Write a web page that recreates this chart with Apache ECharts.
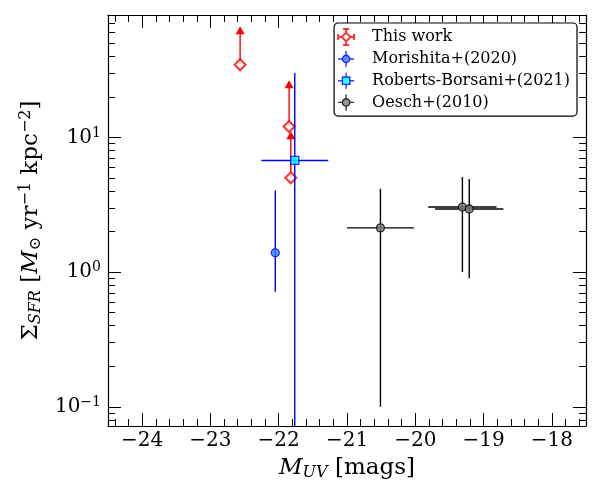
<!DOCTYPE html>
<html>
<head>
<meta charset="utf-8">
<script src="https://cdn.jsdelivr.net/npm/echarts@6/dist/echarts.min.js"></script>
<style>
  html, body { margin: 0; background: #fff; }
  #chart { width: 600px; height: 500px; }
</style>
</head>
<body>
<div id="chart"></div>
<script>
const FONT = "DejaVu Serif";

// axis ranges and ticks
const xRange = [-24.5, -17.5];
const yRange = [0.072, 81];
const xMajor = [-24, -23, -22, -21, -20, -19, -18];
const xMinor = [-24.4, -24.2, -23.8, -23.6, -23.4, -23.2, -22.8, -22.6, -22.4, -22.2,
  -21.8, -21.6, -21.4, -21.2, -20.8, -20.6, -20.4, -20.2, -19.8, -19.6, -19.4, -19.2,
  -18.8, -18.6, -18.4, -18.2, -17.8, -17.6];
const yMajor = [0.1, 1, 10];
const yMinor = [0.08, 0.09, 0.2, 0.3, 0.4, 0.5, 0.6, 0.7, 0.8, 0.9,
  2, 3, 4, 5, 6, 7, 8, 9, 20, 30, 40, 50, 60, 70, 80];

// This work (lower limits, arrows point up)
const workMuv = [-22.565, -21.848, -21.823];
const workSfr = [34.6, 12.05, 5.01];
const workLimit = [62, 24.6, 10.3];

// Morishita+(2020)
const morMuv = [-22.05];
const morSfr = [1.39];
const morLo = [0.714];
const morHi = [4.03];

// Roberts-Borsani+(2021)
const rbMuv = [-21.765];
const rbSfr = [6.74];
const rbMuvErr = [0.49];
const rbLo = [0.0001];
const rbHi = [30.0];

// Oesch+(2010)
const oeMuv = [-20.51, -19.31, -19.21];
const oeSfr = [2.13, 3.04, 2.94];
const oeMuvErr = [0.49, 0.5, 0.5];
const oeLo = [0.1, 1.0, 0.9];
const oeHi = [4.15, 5.07, 4.9];

const chart = echarts.init(document.getElementById("chart"));

function xAxisCfg(pos, ticks, len, main) {
  return {
    type: "value",
    position: pos,
    min: xRange[0],
    max: xRange[1],
    axisLine: { show: main, onZero: false, lineStyle: { color: "#000", width: 1.2 } },
    axisTick: { show: true, inside: true, length: len, customValues: ticks, lineStyle: { color: "#000", width: 1 } },
    axisLabel: { show: false },
    splitLine: { show: false },
  };
}

function yAxisCfg(pos, ticks, len, main) {
  return {
    type: "log",
    logBase: 10,
    position: pos,
    min: yRange[0],
    max: yRange[1],
    axisLine: { show: main, onZero: false, lineStyle: { color: "#000", width: 1.2 } },
    axisTick: { show: true, inside: true, length: len, customValues: ticks, lineStyle: { color: "#000", width: 1 } },
    axisLabel: { show: false },
    splitLine: { show: false },
  };
}

const xBottom = xAxisCfg("bottom", xMajor, 13, true);
xBottom.axisLabel = {
  show: true,
  customValues: xMajor,
  margin: 5,
  fontFamily: FONT,
  fontSize: 20,
  color: "#000",
  formatter: (v) => (v < 0 ? "\u2212" : "") + Math.abs(v),
};
xBottom.name = "{it|M}{sub|UV} [mags]";
xBottom.nameLocation = "middle";
xBottom.nameGap = 30;
xBottom.nameTextStyle = {
  fontFamily: FONT,
  fontSize: 23,
  color: "#000",
  rich: {
    it: { fontFamily: FONT, fontStyle: "italic", fontSize: 23, color: "#000" },
    sub: { fontFamily: FONT, fontStyle: "italic", fontSize: 16, color: "#000", verticalAlign: "bottom", padding: [9, 0, 0, 0] },
  },
};

const yLeft = yAxisCfg("left", yMajor, 13, true);
yLeft.axisLabel = {
  show: true,
  customValues: yMajor,
  margin: 7,
  fontFamily: FONT,
  fontSize: 20,
  color: "#000",
  formatter: (v) => "{b|10}{s|" + String(Math.round(Math.log10(v))).replace("-", "\u2212") + "}",
  rich: {
    b: { fontFamily: FONT, fontSize: 20, color: "#000" },
    s: { fontFamily: FONT, fontSize: 14, color: "#000", verticalAlign: "top", padding: [0, 0, 9, 0] },
  },
};
yLeft.name = "{n|\u03a3}{sub|SFR} [{it|M}{subn|\u2299} yr{sup|\u22121} kpc{sup|\u22122}]";
yLeft.nameLocation = "middle";
yLeft.nameGap = 64;
yLeft.nameRotate = 90;
yLeft.nameTextStyle = {
  fontFamily: FONT,
  fontSize: 23,
  color: "#000",
  rich: {
    n: { fontFamily: FONT, fontSize: 23, color: "#000" },
    it: { fontFamily: FONT, fontStyle: "italic", fontSize: 23, color: "#000" },
    sub: { fontFamily: FONT, fontStyle: "italic", fontSize: 16, color: "#000", verticalAlign: "bottom", padding: [9, 0, 0, 0] },
    subn: { fontFamily: FONT, fontSize: 16, color: "#000", verticalAlign: "bottom", padding: [9, 0, 0, 0] },
    sup: { fontFamily: FONT, fontSize: 16, color: "#000", verticalAlign: "top", padding: [0, 0, 10, 0] },
  },
};

function errorBars(color, arrow) {
  return function (params, api) {
    const x = api.value(0);
    const y = api.value(1);
    const h0 = api.coord([api.value(2), y]);
    const h1 = api.coord([api.value(3), y]);
    const v0 = api.coord([x, api.value(4)]);
    const v1 = api.coord([x, api.value(5)]);
    const style = { stroke: color, lineWidth: 1.4 };
    const kids = [];
    if (h1[0] - h0[0] > 0.5) {
      kids.push({ type: "line", shape: { x1: h0[0], y1: h0[1], x2: h1[0], y2: h1[1] }, style });
    }
    kids.push({ type: "line", shape: { x1: v0[0], y1: v0[1], x2: v1[0], y2: v1[1] }, style });
    if (arrow) {
      kids.push({
        type: "polygon",
        shape: { points: [[v1[0], v1[1] - 4.5], [v1[0] - 4.5, v1[1] + 3.5], [v1[0] + 4.5, v1[1] + 3.5]] },
        style: { fill: color },
      });
    }
    return { type: "group", children: kids };
  };
}

const workBars = workMuv.map((x, i) => [x, workSfr[i], x, x, workSfr[i], workLimit[i]]);
const morBars = morMuv.map((x, i) => [x, morSfr[i], x, x, morLo[i], morHi[i]]);
const rbBars = rbMuv.map((x, i) => [x, rbSfr[i], x - rbMuvErr[i], x + rbMuvErr[i], rbLo[i], rbHi[i]]);
const oeBars = oeMuv.map((x, i) => [x, oeSfr[i], x - oeMuvErr[i], x + oeMuvErr[i], oeLo[i], oeHi[i]]);

const pts = (xs, ys) => xs.map((x, i) => [x, ys[i]]);

function barSeries(data, color, arrow, z) {
  return {
    type: "custom",
    renderItem: errorBars(color, arrow),
    data,
    encode: { x: 0, y: 1 },
    clip: true,
    silent: true,
    z,
  };
}

const iconWork = "path://M0,8L3.6,8M12.4,8L16,8M8,0L8,3.6M8,12.4L8,16M0,5L0,11M16,5L16,11M5,0L11,0M5,16L11,16M8,3.6L12.4,8L8,12.4L3.6,8Z";
const iconMor = "path://M0,8L4.3,8M11.7,8L16,8M8,0L8,4.3M8,11.7L8,16M11.7,8A3.7,3.7,0,1,1,4.3,8A3.7,3.7,0,1,1,11.7,8Z";
const iconRb = "path://M0,8L4.3,8M11.7,8L16,8M8,0L8,4.3M8,11.7L8,16M4.3,4.3L11.7,4.3L11.7,11.7L4.3,11.7Z";
const iconOe = "path://M0,8L4.3,8M11.7,8L16,8M8,0L8,4.3M8,11.7L8,16M11.7,8A3.7,3.7,0,1,1,4.3,8A3.7,3.7,0,1,1,11.7,8Z";

chart.setOption({
  animation: false,
  backgroundColor: "#fff",
  grid: { left: 108, right: 14, top: 15, bottom: 74, containLabel: false },
  xAxis: [
    xBottom,
    xAxisCfg("bottom", xMinor, 7, false),
    xAxisCfg("top", xMajor, 13, true),
    xAxisCfg("top", xMinor, 7, false),
  ],
  yAxis: [
    yLeft,
    yAxisCfg("left", yMinor, 7, false),
    yAxisCfg("right", yMajor, 13, true),
    yAxisCfg("right", yMinor, 7, false),
  ],
  legend: {
    orient: "vertical",
    right: 23,
    top: 23,
    backgroundColor: "#fff",
    borderColor: "#000",
    borderWidth: 1.2,
    borderRadius: 4,
    padding: [5, 7, 5, 3],
    itemWidth: 42,
    itemHeight: 16,
    itemGap: 4.3,
    selectedMode: false,
    textStyle: { fontFamily: FONT, fontSize: 16, color: "#000" },
    data: [
      { name: "This work", icon: iconWork, itemStyle: { color: "#fff", borderColor: "#ff0000", borderWidth: 2 } },
      { name: "Morishita+(2020)", icon: iconMor, itemStyle: { color: "#2f6fff", borderColor: "#0000ff", borderWidth: 1.4 } },
      { name: "Roberts-Borsani+(2021)", icon: iconRb, itemStyle: { color: "#00ffff", borderColor: "#0000ff", borderWidth: 1.4 } },
      { name: "Oesch+(2010)", icon: iconOe, itemStyle: { color: "#808080", borderColor: "#000", borderWidth: 1.4 } },
    ],
  },
  series: [
    barSeries(workBars, "#ff0000", true, 2),
    {
      name: "This work", type: "scatter", data: pts(workMuv, workSfr), symbol: "diamond", symbolSize: 11,
      itemStyle: { color: "#fff", borderColor: "#ff0000", borderWidth: 2 }, z: 3, silent: true,
    },
    barSeries(morBars, "#0000ff", false, 4),
    {
      name: "Morishita+(2020)", type: "scatter", data: pts(morMuv, morSfr), symbol: "circle", symbolSize: 8,
      itemStyle: { color: "#2f7fff", borderColor: "#0000ff", borderWidth: 1.3 }, z: 5, silent: true,
    },
    barSeries(rbBars, "#0000ff", false, 6),
    {
      name: "Roberts-Borsani+(2021)", type: "scatter", data: pts(rbMuv, rbSfr), symbol: "rect", symbolSize: 8,
      itemStyle: { color: "#00ffff", borderColor: "#0000ff", borderWidth: 1.3 }, z: 7, silent: true,
    },
    barSeries(oeBars, "#000000", false, 8),
    {
      name: "Oesch+(2010)", type: "scatter", data: pts(oeMuv, oeSfr), symbol: "circle", symbolSize: 8,
      itemStyle: { color: "#808080", borderColor: "#000", borderWidth: 1.3 }, z: 9, silent: true,
    },
  ],
});
</script>
</body>
</html>
